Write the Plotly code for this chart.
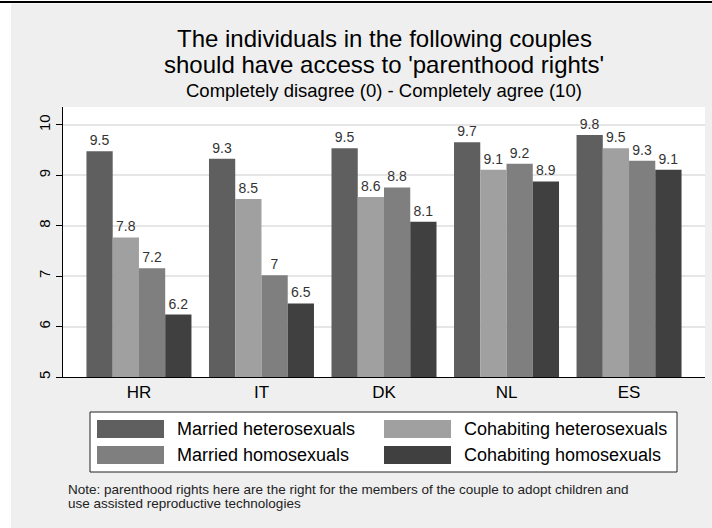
import plotly.graph_objects as go

countries = ["HR", "IT", "DK", "NL", "ES"]
series_names = ["Married heterosexuals", "Cohabiting heterosexuals",
                "Married homosexuals", "Cohabiting homosexuals"]
married_hetero = [9.48, 9.33, 9.54, 9.66, 9.80]
cohab_hetero = [7.77, 8.53, 8.57, 9.11, 9.54]
married_homo = [7.16, 7.02, 8.76, 9.23, 9.29]
cohab_homo = [6.24, 6.46, 8.08, 8.88, 9.11]
series_values = [married_hetero, cohab_hetero, married_homo, cohab_homo]
colors = ["#5f5f5f", "#a0a0a0", "#7f7f7f", "#404040"]

title_lines = ["The individuals in the following couples",
               "should have access to 'parenthood rights'"]
subtitle = "Completely disagree (0) - Completely agree (10)"
note_lines = ["Note: parenthood rights here are the right for the members of the couple to adopt children and",
              "use assisted reproductive technologies"]
y_ticks = [5, 6, 7, 8, 9, 10]

FONT = "Liberation Sans, Arial, sans-serif"
W, H = 712, 528
L, R, T, B = 63, 7, 107, 151
PW, PH = W - L - R, H - T - B


def px(x):
    return (x - L) / PW


def py(y):
    return (H - B - y) / PH


def lab(v):
    return f"{round(v, 1):g}"


fig = go.Figure()
for name, vals, col in zip(series_names, series_values, colors):
    fig.add_trace(go.Bar(
        x=countries, y=vals, name=name, marker=dict(color=col, line=dict(width=0)),
        text=[lab(v) for v in vals], textposition="outside",
        textfont=dict(family=FONT, size=14, color="#333333"),
        cliponaxis=False, showlegend=False,
    ))

shapes = [
    dict(type="rect", xref="paper", yref="paper", x0=px(11), x1=px(712), y0=py(3.5), y1=py(528),
         fillcolor="#efefef", line=dict(width=0), layer="below"),
    dict(type="rect", xref="paper", yref="paper", x0=0, x1=1, y0=0, y1=1,
         fillcolor="white", line=dict(width=0), layer="below"),
    dict(type="line", xref="paper", yref="paper", x0=px(0), x1=px(712), y0=py(2), y1=py(2),
         line=dict(color="black", width=2)),
    # legend box
    dict(type="rect", xref="paper", yref="paper", x0=px(90), x1=px(677), y0=py(412), y1=py(472),
         fillcolor="white", line=dict(color="#222222", width=1)),
]
annotations = []
leg_pos = [(97, 429), (384, 429), (97, 455), (384, 455)]
for (lx, ly), name, col in zip(leg_pos, series_names, colors):
    shapes.append(dict(type="rect", xref="paper", yref="paper", x0=px(lx), x1=px(lx + 67),
                       y0=py(ly + 9), y1=py(ly - 9), fillcolor=col, line=dict(width=0)))
    annotations.append(dict(text=name, xref="paper", yref="paper", x=px(lx + 78), y=py(ly),
                            xanchor="left", yanchor="middle", showarrow=False,
                            font=dict(family=FONT, size=18, color="black")))

for i, t in enumerate(title_lines):
    annotations.append(dict(text=t, xref="paper", yref="paper", x=px(384), y=py(38 + 26 * i),
                            xanchor="center", yanchor="middle", showarrow=False,
                            font=dict(family=FONT, size=24, color="black")))
annotations.append(dict(text=subtitle, xref="paper", yref="paper", x=px(384), y=py(91),
                        xanchor="center", yanchor="middle", showarrow=False,
                        font=dict(family=FONT, size=18.5, color="black")))
for i, t in enumerate(note_lines):
    annotations.append(dict(text=t, xref="paper", yref="paper", x=px(66), y=py(489 + 14 * i),
                            xanchor="left", yanchor="middle", align="left", showarrow=False,
                            font=dict(family=FONT, size=13.5, color="#222222")))

fig.update_layout(
    width=W, height=H, margin=dict(l=L, r=R, t=T, b=B, pad=0),
    paper_bgcolor="white", plot_bgcolor="white",
    barmode="group", bargap=0.143, bargroupgap=0,
    font=dict(family=FONT, color="black"),
    shapes=shapes, annotations=annotations, showlegend=False,
)
fig.update_xaxes(range=[-0.62, 4.62], showline=True, linecolor="black", linewidth=1,
                 ticks="", showgrid=False, tickfont=dict(size=17, family=FONT, color="black"),
                 fixedrange=True)
fig.update_yaxes(range=[5, 10.357], tickvals=y_ticks, showline=True, linecolor="black", linewidth=1,
                 ticks="outside", ticklen=6, tickcolor="black", tickangle=-90,
                 gridcolor="#e6e6e6", gridwidth=1.5, zeroline=False,
                 tickfont=dict(size=15, family=FONT, color="black"), fixedrange=True)

fig.write_html("out.html", config={"displayModeBar": False},
               post_script="document.body.style.margin='0';document.body.style.overflow='hidden';")
